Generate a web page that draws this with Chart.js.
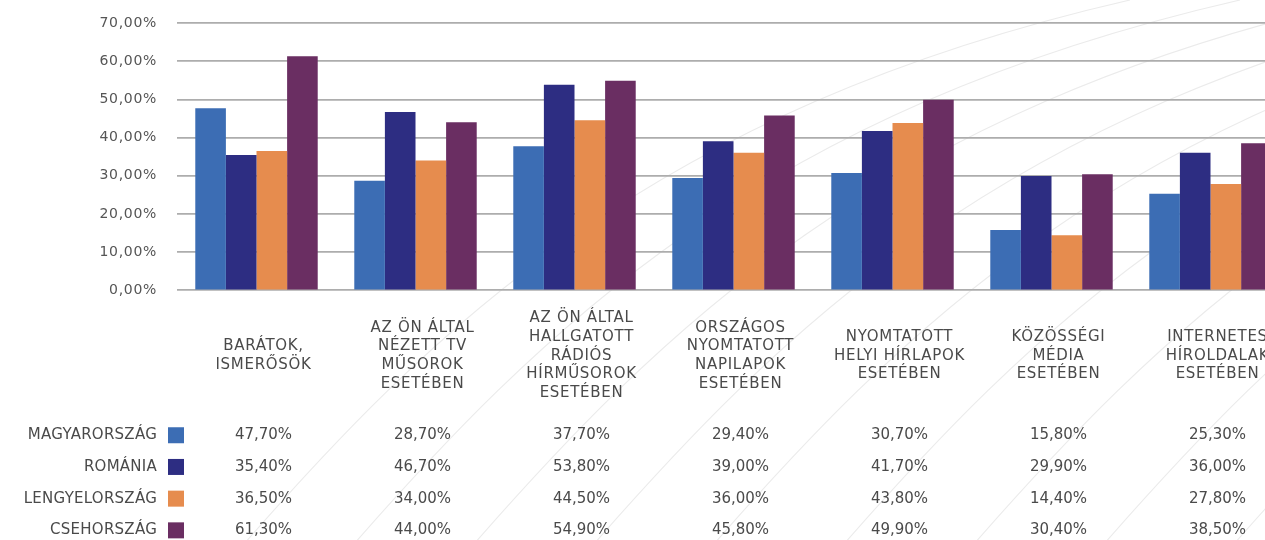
<!DOCTYPE html>
<html>
<head>
<meta charset="utf-8">
<script src="https://cdn.jsdelivr.net/npm/chart.js@4.4.1/dist/chart.umd.min.js"></script>
<style>
  html, body { margin: 0; padding: 0; background: #ffffff; overflow: hidden; }
  #wrap { width: 1265px; height: 540px; overflow: hidden; position: relative; }
  canvas { display: block; }
</style>
</head>
<body>
<div id="wrap"><canvas id="c" width="1300" height="540"></canvas></div>
<script>
const categories = [
  ["BARÁTOK,", "ISMERŐSÖK"],
  ["AZ ÖN ÁLTAL", "NÉZETT TV", "MŰSOROK", "ESETÉBEN"],
  ["AZ ÖN ÁLTAL", "HALLGATOTT", "RÁDIÓS", "HÍRMŰSOROK", "ESETÉBEN"],
  ["ORSZÁGOS", "NYOMTATOTT", "NAPILAPOK", "ESETÉBEN"],
  ["NYOMTATOTT", "HELYI HÍRLAPOK", "ESETÉBEN"],
  ["KÖZÖSSÉGI", "MÉDIA", "ESETÉBEN"],
  ["INTERNETES", "HÍROLDALAK", "ESETÉBEN"]
];
const seriesNames = ["MAGYARORSZÁG", "ROMÁNIA", "LENGYELORSZÁG", "CSEHORSZÁG"];
const magyarorszag = [47.7, 28.7, 37.7, 29.4, 30.7, 15.8, 25.3];
const romania = [35.4, 46.7, 53.8, 39.0, 41.7, 29.9, 36.0];
const lengyelorszag = [36.5, 34.0, 44.5, 36.0, 43.8, 14.4, 27.8];
const csehorszag = [61.3, 44.0, 54.9, 45.8, 49.9, 30.4, 38.5];
const yTicks = [0, 10, 20, 30, 40, 50, 60, 70];

const colors = ["#3C6DB4", "#2D2D82", "#E68C4E", "#6A2E62"];
const seriesValues = [magyarorszag, romania, lengyelorszag, csehorszag];
const FONT = "'DejaVu Sans', sans-serif";
const fmt = v => v.toFixed(2).replace('.', ',') + '%';

const bgCurves = {
  id: 'bgCurves',
  beforeDraw(chart) {
    const ctx = chart.ctx;
    ctx.save();
    ctx.strokeStyle = '#ebebeb';
    ctx.lineWidth = 1.1;
    const starts = [230, 340, 460, 580, 700, 830, 960, 1090, 1220];
    starts.forEach(x0 => {
      ctx.beginPath();
      ctx.moveTo(x0, 560);
      ctx.bezierCurveTo(x0 + 200, 330, x0 + 420, 110, x0 + 900, 0);
      ctx.stroke();
    });
    ctx.restore();
    ctx.letterSpacing = '0.7px';
  },
  beforeDatasetsDraw(chart) {
    chart.ctx.letterSpacing = '0px';
  }
};

const dataTable = {
  id: 'dataTable',
  afterDraw(chart) {
    const ctx = chart.ctx;
    const xs = chart.scales.x;
    const area = chart.chartArea;
    ctx.save();
    ctx.font = "15px " + FONT;
    ctx.textBaseline = 'middle';
    seriesNames.forEach((name, r) => {
      const y = area.bottom + 145 + r * 31.7;
      ctx.fillStyle = '#4a4a4a';
      ctx.textAlign = 'right';
      ctx.letterSpacing = '0.25px';
      ctx.fillText(name, area.left - 20, y);
      ctx.letterSpacing = '0px';
      ctx.fillStyle = colors[r];
      ctx.fillRect(area.left - 9, y - 8, 16, 16);
      ctx.fillStyle = '#4a4a4a';
      ctx.textAlign = 'center';
      seriesValues[r].forEach((v, i) => {
        ctx.fillText(fmt(v), xs.getPixelForValue(i) + 7, y);
      });
    });
    ctx.restore();
  }
};

new Chart(document.getElementById('c'), {
  type: 'bar',
  data: {
    labels: categories,
    datasets: seriesNames.map((n, i) => ({
      label: n,
      data: seriesValues[i],
      backgroundColor: colors[i],
      borderWidth: 0,
      categoryPercentage: 0.77,
      barPercentage: 1.0
    }))
  },
  options: {
    responsive: false,
    animation: false,
    devicePixelRatio: 1,
    layout: { padding: { top: 23, right: 10, bottom: 100, left: 0 } },
    plugins: { legend: { display: false }, tooltip: { enabled: false } },
    scales: {
      x: {
        grid: { display: false, drawTicks: false },
        border: { display: false },
        ticks: {
          color: '#4a4a4a',
          font: { family: FONT, size: 15, lineHeight: 1.25 },
          padding: 28,
          labelOffset: 7,
          crossAlign: 'center',
          maxRotation: 0,
          autoSkip: false
        }
      },
      y: {
        min: 0, max: 70,
        afterBuildTicks: s => { s.ticks = yTicks.map(v => ({ value: v })); },
        afterFit: s => { s.width = 177; s.paddingTop = 0; s.paddingBottom = 0; },
        grid: { color: '#adadad', lineWidth: 1.7, drawTicks: false },
        border: { display: false },
        ticks: {
          color: '#555555',
          font: { family: FONT, size: 14 },
          padding: 20,
          callback: v => fmt(v)
        }
      }
    }
  },
  plugins: [bgCurves, dataTable]
});
</script>
</body>
</html>
